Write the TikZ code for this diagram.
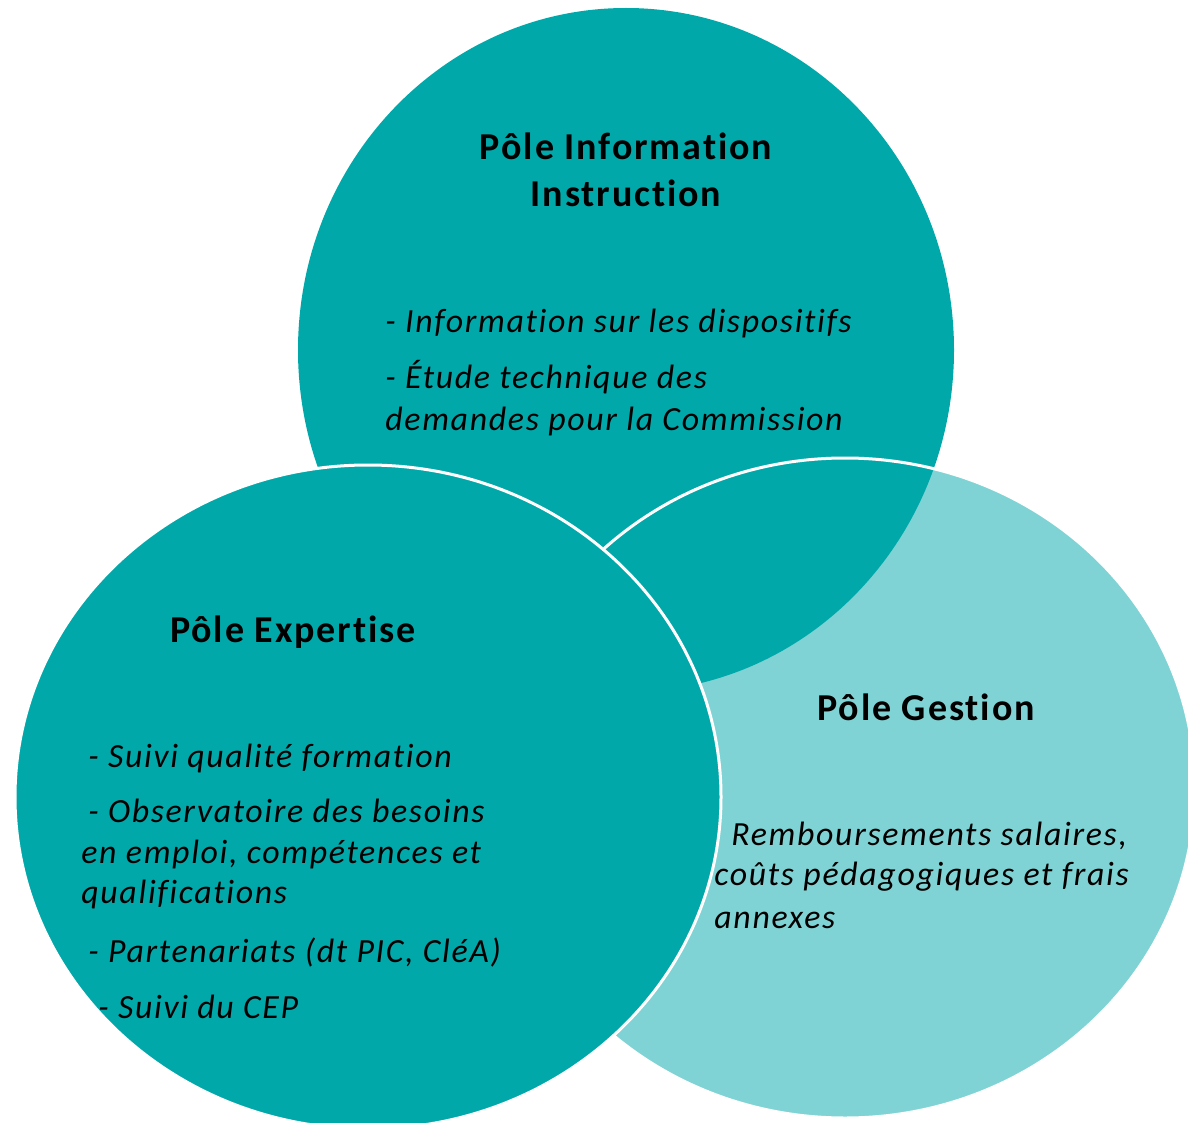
\documentclass[tikz,border=0pt]{standalone}
\usepackage{fontspec}
\setmainfont[Ligatures=NoCommon, LetterSpace=5]{Carlito}
\definecolor{tealdark}{RGB}{0,168,170}
\definecolor{teallight}{RGB}{128,211,212}
\tikzset{
  title/.style={anchor=base, inner sep=0pt, font=\fontsize{19}{23}\selectfont\bfseries},
  item/.style={anchor=base west, inner sep=0pt, font=\fontsize{16.9}{20}\selectfont\itshape}
}
\begin{document}
\begin{tikzpicture}[x=0.5pt, y=-0.5pt]
        \useasboundingbox (0,0) rectangle (1188,1123);

        % 1. Define Coordinates
        \coordinate (top)   at (626, 350);   % Information
        \coordinate (left)  at (368, 797);   % Expertise
        \coordinate (right) at (845, 788);   % Gestion

        % 2. Circles (right one first, left one last)
        \fill[teallight] (right) ellipse [x radius=350, y radius=330];
        \fill[tealdark] (top) ellipse [x radius=328, y radius=342];
        \draw[white, line width=1.5pt] (right) ellipse [x radius=350, y radius=330];
        \filldraw[tealdark, draw=white, line width=1.5pt] (left) ellipse [x radius=353, y radius=332];

        % 3. Titles
        \node[title] (tInfo)  at (626, 160) {Pôle Information};
        \node[title] (tInst)  at (626, 207) {Instruction};
        \node[title] (tExp)   at (293, 642) {Pôle Expertise};
        \node[title] (tGest)  at (926, 720) {Pôle Gestion};

        % 4. Items
        \node[item] (i1) at (385, 332) {- Information sur les dispositifs};
        \node[item] (i2) at (385, 388) {- Étude technique des};
        \node[item] (i3) at (385, 430) {demandes pour la Commission};

        \node[item] (e1) at (88, 767)  {- Suivi qualité formation};
        \node[item] (e2) at (88, 822)  {- Observatoire des besoins};
        \node[item] (e3) at (81, 863)  {en emploi, compétences et};
        \node[item] (e4) at (81, 903)  {qualifications};
        \node[item] (e5) at (88, 962)  {- Partenariats (dt PIC, CléA)};
        \node[item] (e6) at (98, 1018) {- Suivi du CEP};

        \node[item] (g1) at (731, 845) {Remboursements salaires,};
        \node[item] (g2) at (714, 885) {coûts pédagogiques et frais};
        \node[item] (g3) at (714, 928) {annexes};
    \end{tikzpicture}
\end{document}
